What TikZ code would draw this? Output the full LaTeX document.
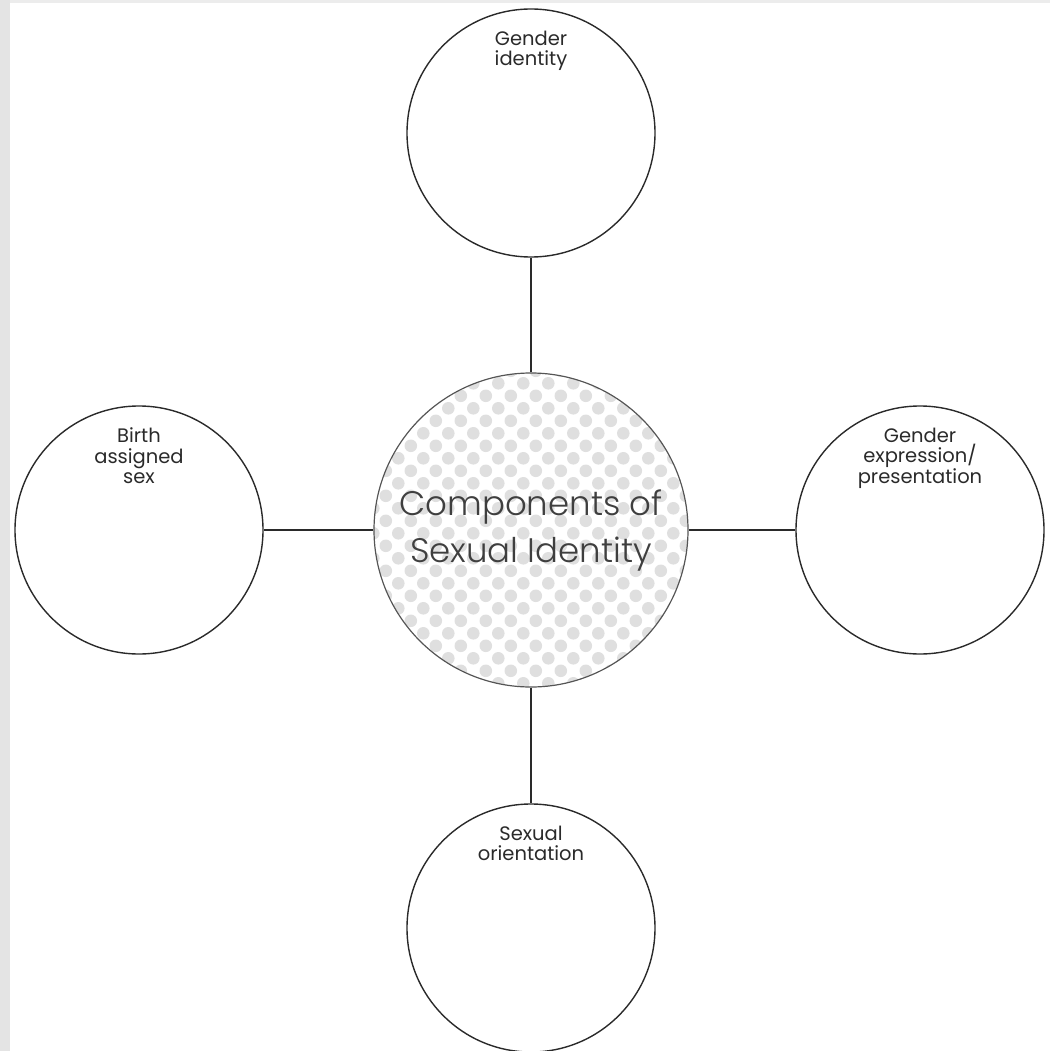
\documentclass[tikz,border=0pt]{standalone}
\usepackage{fontspec}
\setmainfont{Poppins}
\newfontfamily\corefont{Poppins Light}
\usetikzlibrary{positioning}

\definecolor{stripgrey}{HTML}{E4E4E4}
\definecolor{dotgrey}{HTML}{DFDFDF}
\definecolor{inkgrey}{HTML}{2A2A2A}

\begin{document}
\begin{tikzpicture}[x=1pt, y=-1pt, on grid,
  bubble/.style={circle, draw=inkgrey, line width=1.4pt, minimum size=248pt, inner sep=0pt},
  tag/.style={anchor=north, yshift=-19pt, align=center, font=\fontsize{19.5}{20.5}\selectfont, text=inkgrey},
  core/.style={circle, draw=inkgrey!80, line width=1.2pt, minimum size=314pt, inner sep=0pt,
    align=center, font=\corefont\fontsize{34}{47}\selectfont, text=inkgrey!90,
    path picture={
      \foreach \j in {-13,...,13}{
        \pgfmathsetmacro\dotshift{mod(abs(\j),2)*12.5}
        \foreach \i in {-7,...,7}
          \fill[dotgrey] ([shift={(\i*25+\dotshift-7.7,\j*12.5+3.3)}]path picture bounding box.center) circle (6.3pt);
      }
    }}]
  % page edges
  \useasboundingbox (0,0) rectangle (1050,1051);
  \fill[stripgrey] (0,0) rectangle (10,1051);
  \fill[stripgrey!70] (10,0) rectangle (1050,3);

  \node[core] (0) at (531,530) {Components of\\Sexual Identity};
  \node[bubble] (1) [above=397pt of 0, label={[tag]north:Gender\\identity}] {};
  \node[bubble] (2) [left=392pt of 0, label={[tag]north:Birth\\assigned\\sex}] {};
  \node[bubble] (3) [right=389pt of 0, label={[tag]north:Gender\\expression/\\presentation}] {};
  \node[bubble] (4) [below=398pt of 0, label={[tag]north:Sexual\\orientation}] {};
  \path[draw=inkgrey, line width=1.1pt]
    (0) edge (1)
        edge (2)
        edge (3)
        edge (4);
\end{tikzpicture}
\end{document}
